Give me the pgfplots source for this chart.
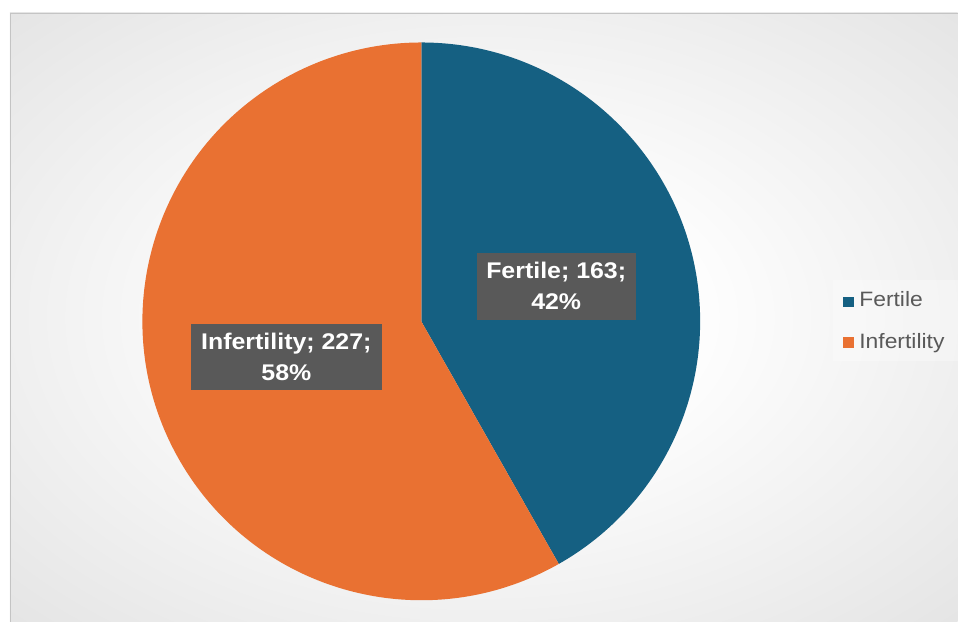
\documentclass[border=0pt]{standalone}
\usepackage{pgfplots}
\pgfplotsset{compat=1.18}
\usepackage{fontspec}
\setmainfont{Liberation Sans}[FakeStretch=1.1]
\definecolor{cFert}{HTML}{156082}
\definecolor{cInf}{HTML}{E97132}
\definecolor{cLab}{HTML}{595959}
\definecolor{cBord}{HTML}{C4C4C4}
\definecolor{cBgOut}{HTML}{C0C0C0}
\pgfdeclareradialshading{bgshade}{\pgfpoint{0bp}{0bp}}{color(0bp)=(white); color(10bp)=(white); color(71bp)=(cBgOut)}
% data
\def\vFert{163}
\def\vInf{227}
\pgfmathsetmacro\vTot{\vFert+\vInf}
\pgfmathsetmacro\fracF{\vFert/\vTot}
\pgfmathsetmacro\aF{90-360*\fracF}
\pgfmathtruncatemacro\pF{round(100*\fracF)}
\pgfmathtruncatemacro\pI{round(100*(\vInf/\vTot))}
\def\R{209.25pt}
\begin{document}
\begin{tikzpicture}
\begin{axis}[scale only axis, width=718.5pt, height=466.5pt,
  xmin=0, xmax=958, ymin=0, ymax=622, hide axis, clip=false]
  \path (axis cs:0,0) rectangle (axis cs:958,622);
  % chart area background
  \shade[shading=bgshade] (axis cs:10,0) rectangle (axis cs:958,609);
  \draw[cBord, line width=0.75pt] (axis cs:10.5,0) -- (axis cs:10.5,608.5) -- (axis cs:958,608.5);
  % pie slices
  \fill[cFert] (axis cs:421.5,300.5) -- ++(90:\R) arc[start angle=90, end angle=\aF, radius=\R] -- cycle;
  \fill[cInf] (axis cs:421.5,300.5) -- ++(\aF:\R) arc[start angle=\aF, end angle=-270, radius=\R] -- cycle;
  % data labels
  \node[fill=cLab, text=white, font=\bfseries\fontsize{17pt}{23.25pt}\selectfont, align=center,
        inner sep=0pt, minimum width=119.25pt, minimum height=50.25pt]
        at (axis cs:556.5,335.5) {Fertile; \vFert;\\\pF\%};
  \node[fill=cLab, text=white, font=\bfseries\fontsize{17pt}{23.25pt}\selectfont, align=center,
        inner sep=0pt, minimum width=143.25pt, minimum height=49.5pt]
        at (axis cs:286.5,265) {Infertility; \vInf;\\\pI\%};
  % legend
  \fill[white, opacity=0.3] (axis cs:833,261) rectangle (axis cs:958,342);
  \fill[cFert] (axis cs:843,315) rectangle (axis cs:854,325);
  \fill[cInf] (axis cs:843,274) rectangle (axis cs:854,285);
  \node[anchor=base west, inner sep=0pt, text=cLab, font=\fontsize{15.6pt}{18pt}\selectfont] at (axis cs:859.5,315) {Fertile};
  \node[anchor=base west, inner sep=0pt, text=cLab, font=\fontsize{15.6pt}{18pt}\selectfont] at (axis cs:859.5,273) {Infertility};
\end{axis}
\end{tikzpicture}
\end{document}
